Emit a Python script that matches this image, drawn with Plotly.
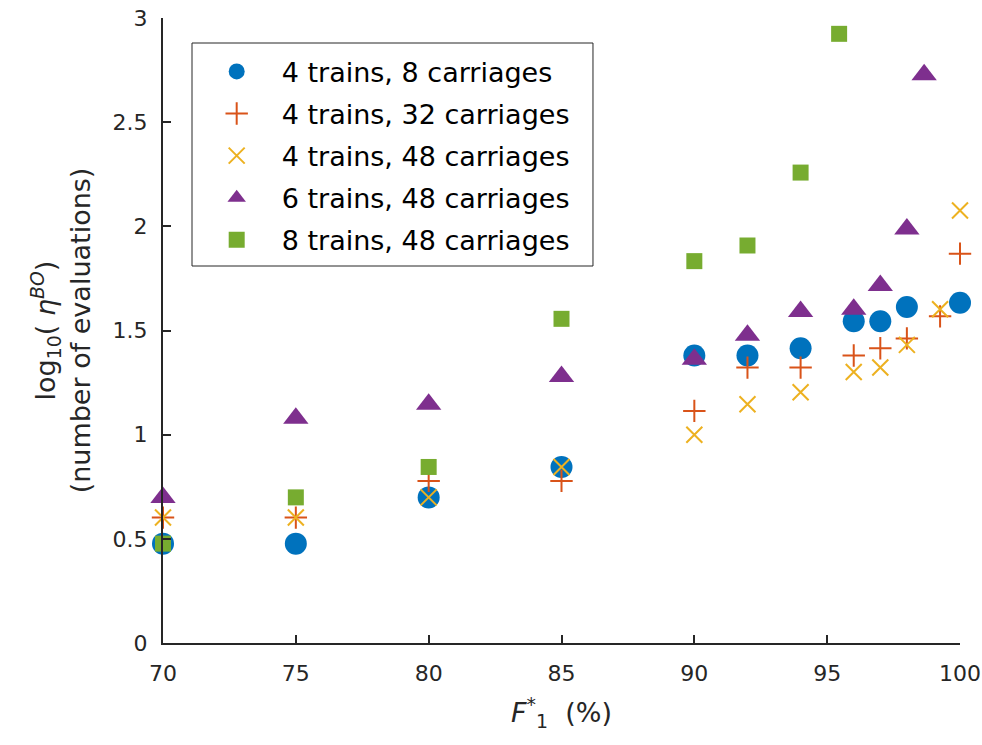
import plotly.graph_objects as go

# ---- data (log10 of number of evaluations vs F1*) ----
x_blue = [70, 75, 80, 85, 90, 92, 94, 96, 97, 98, 100]
y_blue = [0.477, 0.477, 0.699, 0.845, 1.380, 1.380, 1.415, 1.544, 1.544, 1.613, 1.633]

x_red = [70, 75, 80, 85, 90, 92, 94, 96, 97, 98, 99.25, 100]
y_red = [0.602, 0.602, 0.778, 0.778, 1.114, 1.322, 1.322, 1.380, 1.415, 1.462, 1.568, 1.869]

x_yellow = [70, 75, 80, 85, 90, 92, 94, 96, 97, 98, 99.25, 100]
y_yellow = [0.602, 0.602, 0.699, 0.845, 1.000, 1.146, 1.204, 1.301, 1.322, 1.431, 1.602, 2.076]

x_purple = [70, 75, 80, 85, 90, 92, 94, 96, 97, 98, 98.65]
y_purple = [0.699, 1.079, 1.146, 1.279, 1.362, 1.477, 1.591, 1.602, 1.716, 1.987, 2.728]

x_green = [70, 75, 80, 85, 90, 92, 94, 95.45]
y_green = [0.477, 0.699, 0.845, 1.556, 1.833, 1.908, 2.258, 2.924]

names = ["4 trains, 8 carriages", "4 trains, 32 carriages", "4 trains, 48 carriages",
         "6 trains, 48 carriages", "8 trains, 48 carriages"]
x_ticks = [70, 75, 80, 85, 90, 95, 100]
y_ticks = [0, 0.5, 1, 1.5, 2, 2.5, 3]

FONT = "DejaVu Sans"
AX = "#262626"

fig = go.Figure()
fig.add_trace(go.Scatter(x=x_blue, y=y_blue, mode="markers", name=names[0], legendgroup="a",
                         marker=dict(symbol="circle", size=22, color="#0072BD", line=dict(width=0)),
                         cliponaxis=False))
fig.add_trace(go.Scatter(x=x_red, y=y_red, mode="markers", name=names[1], legendgroup="b",
                         marker=dict(symbol="cross-thin", size=16, color="#D95319",
                                     line=dict(width=2, color="#D95319")),
                         cliponaxis=False))
fig.add_trace(go.Scatter(x=x_yellow, y=y_yellow, mode="markers", name=names[2], legendgroup="c",
                         marker=dict(symbol="x-thin", size=16, color="#EDB120",
                                     line=dict(width=2, color="#EDB120")),
                         cliponaxis=False))
fig.add_trace(go.Scatter(x=x_purple, y=y_purple, mode="markers", name=names[3], legendgroup="d",
                         marker=dict(symbol="triangle-up", size=22, color="#7E2F8E", line=dict(width=0)),
                         cliponaxis=False))
fig.add_trace(go.Scatter(x=x_green, y=y_green, mode="markers", name=names[4], legendgroup="e",
                         marker=dict(symbol="square", size=16, color="#77AC30", line=dict(width=0)),
                         cliponaxis=False))

fig.update_layout(
    width=982, height=745,
    margin=dict(l=163, r=22, t=18, b=102),
    plot_bgcolor="white", paper_bgcolor="white",
    font=dict(family=FONT, color=AX),
    legend=dict(x=0.036, y=0.953, xanchor="left", yanchor="top",
                borderwidth=0, bgcolor="rgba(0,0,0,0)",
                font=dict(family=FONT, size=27, color="black"),
                itemwidth=80, tracegroupgap=4),
    shapes=[dict(type="rect", xref="paper", yref="paper", layer="below",
                 x0=0.0364, x1=0.5395, y0=0.6032, y1=0.96,
                 line=dict(color=AX, width=1), fillcolor="white")],
)
fig.update_xaxes(range=[70, 100], tickvals=x_ticks, ticktext=[str(v) for v in x_ticks],
                 ticks="inside", ticklen=8, tickwidth=1.5, tickcolor=AX, automargin=False,
                 showline=True, linewidth=2, linecolor=AX, showgrid=False, zeroline=False,
                 tickfont=dict(family=FONT, size=22, color=AX), ticklabelstandoff=10,
                 title=dict(text="<i>F</i><sup>*</sup><sub>1</sub>&nbsp;&nbsp;(%)",
                            font=dict(family=FONT, size=27, color=AX), standoff=18))
fig.update_yaxes(range=[0, 3], tickvals=y_ticks, ticktext=["0", "0.5", "1", "1.5", "2", "2.5", "3"],
                 ticks="inside", ticklen=8, tickwidth=1.5, tickcolor=AX, automargin=False,
                 showline=True, linewidth=2, linecolor=AX, showgrid=False, zeroline=False,
                 tickfont=dict(family=FONT, size=22, color=AX), ticklabelstandoff=9,
                 title=dict(text="log<sub>10</sub>( <i>η</i><sup><i>BO</i></sup>)<br>(number of evaluations)",
                            font=dict(family=FONT, size=27, color=AX), standoff=14))

fig.write_html("out.html")
